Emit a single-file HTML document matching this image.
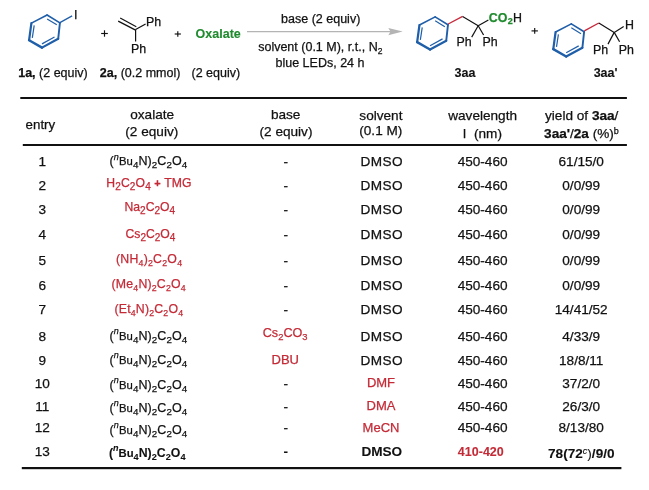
<!DOCTYPE html>
<html><head><meta charset="utf-8"><style>
html,body{margin:0;padding:0;background:#fff;width:649px;height:490px;overflow:hidden}
svg{display:block;will-change:transform}
text{font-family:"Liberation Sans",sans-serif;white-space:pre}
</style></head><body>
<svg width="649" height="490" viewBox="0 0 649 490">
<line x1="47.10" y1="15.00" x2="59.90" y2="22.90" stroke="#1f5ea8" stroke-width="1.6" stroke-linecap="round"/><line x1="59.90" y1="22.90" x2="58.20" y2="38.80" stroke="#1f5ea8" stroke-width="1.9" stroke-linecap="round"/><line x1="58.20" y1="38.80" x2="42.00" y2="47.60" stroke="#1f5ea8" stroke-width="2.2" stroke-linecap="round"/><line x1="42.00" y1="47.60" x2="29.10" y2="40.20" stroke="#1f5ea8" stroke-width="2.4" stroke-linecap="round"/><line x1="29.10" y1="40.20" x2="31.40" y2="23.10" stroke="#1f5ea8" stroke-width="2.2" stroke-linecap="round"/><line x1="31.40" y1="23.10" x2="47.10" y2="15.00" stroke="#1f5ea8" stroke-width="1.6" stroke-linecap="round"/><line x1="47.10" y1="18.90" x2="56.80" y2="24.80" stroke="#1f5ea8" stroke-width="1.2"/><line x1="54.50" y1="37.00" x2="42.00" y2="43.90" stroke="#1f5ea8" stroke-width="1.2"/><line x1="32.30" y1="37.90" x2="34.20" y2="25.40" stroke="#1f5ea8" stroke-width="1.2"/>
<line x1="59.9" y1="22.6" x2="72.1" y2="15.9" stroke="#1f5ea8" stroke-width="1.3"/>
<text x="73.9" y="19.2" font-size="12.5" text-anchor="start" font-weight="normal" fill="#111" stroke="#111" stroke-width="0.25" >I</text>
<line x1="101.15" y1="33.5" x2="107.85" y2="33.5" stroke="#111" stroke-width="1.15"/><line x1="104.5" y1="30.3" x2="104.5" y2="36.7" stroke="#111" stroke-width="1.15"/>
<line x1="120.2" y1="18.0" x2="136.3" y2="26.8" stroke="#111" stroke-width="1.2"/>
<line x1="118.2" y1="21.1" x2="135.6" y2="30.1" stroke="#111" stroke-width="1.2"/>
<line x1="135.6" y1="29.6" x2="145.6" y2="23.9" stroke="#111" stroke-width="1.2"/>
<line x1="135.6" y1="29.6" x2="135.6" y2="41.5" stroke="#111" stroke-width="1.2"/>
<text x="146.1" y="25.7" font-size="12.4" text-anchor="start" font-weight="normal" fill="#111" stroke="#111" stroke-width="0.25" >Ph</text>
<text x="131.0" y="52.6" font-size="12.4" text-anchor="start" font-weight="normal" fill="#111" stroke="#111" stroke-width="0.25" >Ph</text>
<line x1="174.70000000000002" y1="34.0" x2="180.9" y2="34.0" stroke="#111" stroke-width="1.15"/><line x1="177.8" y1="31.2" x2="177.8" y2="36.8" stroke="#111" stroke-width="1.15"/>
<text x="218.2" y="38.0" font-size="12.5" text-anchor="middle" font-weight="bold" fill="#1f8a2e" stroke="#1f8a2e" stroke-width="0.1" >Oxalate</text>
<line x1="247" y1="31.6" x2="392" y2="31.6" stroke="#b4b4b4" stroke-width="1.1"/>
<path d="M388.3,28.1 L402.7,31.6 L388.3,35.2 L390.5,31.6 Z" fill="#b4b4b4"/>
<text x="320.7" y="23.0" font-size="12.5" text-anchor="middle" font-weight="normal" fill="#111" stroke="#111" stroke-width="0.25" >base (2 equiv)</text>
<text x="320.3" y="51.1" font-size="12.5" text-anchor="middle" font-weight="normal" fill="#111" stroke="#111" stroke-width="0.25" >solvent (0.1 M), r.t., N<tspan dy="2.5" font-size="8.5">2</tspan></text>
<text x="320.0" y="67.0" font-size="12.5" text-anchor="middle" font-weight="normal" fill="#111" stroke="#111" stroke-width="0.25" >blue LEDs, 24 h</text>
<text x="18.2" y="77.4" font-size="12.5" text-anchor="start" font-weight="normal" fill="#111" stroke="#111" stroke-width="0.25" ><tspan font-weight="bold">1a,</tspan> (2 equiv)</text>
<text x="99.8" y="77.4" font-size="12.5" text-anchor="start" font-weight="normal" fill="#111" stroke="#111" stroke-width="0.25" ><tspan font-weight="bold">2a,</tspan> (0.2 mmol)</text>
<text x="215.8" y="77.4" font-size="12.5" text-anchor="middle" font-weight="normal" fill="#111" stroke="#111" stroke-width="0.25" >(2 equiv)</text>
<line x1="435.15" y1="16.90" x2="447.95" y2="24.80" stroke="#1f5ea8" stroke-width="1.6" stroke-linecap="round"/><line x1="447.95" y1="24.80" x2="446.25" y2="40.70" stroke="#1f5ea8" stroke-width="1.9" stroke-linecap="round"/><line x1="446.25" y1="40.70" x2="430.05" y2="49.50" stroke="#1f5ea8" stroke-width="2.2" stroke-linecap="round"/><line x1="430.05" y1="49.50" x2="417.15" y2="42.10" stroke="#1f5ea8" stroke-width="2.4" stroke-linecap="round"/><line x1="417.15" y1="42.10" x2="419.45" y2="25.00" stroke="#1f5ea8" stroke-width="2.2" stroke-linecap="round"/><line x1="419.45" y1="25.00" x2="435.15" y2="16.90" stroke="#1f5ea8" stroke-width="1.6" stroke-linecap="round"/><line x1="435.15" y1="20.80" x2="444.85" y2="26.70" stroke="#1f5ea8" stroke-width="1.2"/><line x1="442.55" y1="38.90" x2="430.05" y2="45.80" stroke="#1f5ea8" stroke-width="1.2"/><line x1="420.35" y1="39.80" x2="422.25" y2="27.30" stroke="#1f5ea8" stroke-width="1.2"/>
<line x1="448.2" y1="24.0" x2="462.6" y2="16.4" stroke="#c8283a" stroke-width="1.35"/>
<line x1="462.6" y1="16.4" x2="478.2" y2="25.8" stroke="#111" stroke-width="1.2"/>
<line x1="478.2" y1="25.8" x2="488.4" y2="19.9" stroke="#111" stroke-width="1.2"/>
<line x1="478.2" y1="25.8" x2="471.7" y2="37.1" stroke="#111" stroke-width="1.2"/>
<line x1="478.2" y1="25.8" x2="483.6" y2="35.0" stroke="#111" stroke-width="1.2"/>
<text x="488.7" y="22.0" font-size="12.4" text-anchor="start" font-weight="normal" fill="#111" stroke="#111" stroke-width="0.25" ><tspan fill="#1f8a2e" stroke="#1f8a2e" font-weight="bold">CO</tspan><tspan x="507.8" dy="2.3" font-size="9" fill="#1f8a2e" stroke="#1f8a2e" font-weight="bold">2</tspan><tspan x="513.1" dy="-2.3">H</tspan></text>
<text x="456.5" y="46.3" font-size="12.4" text-anchor="start" font-weight="normal" fill="#111" stroke="#111" stroke-width="0.25" >Ph</text>
<text x="482.4" y="46.3" font-size="12.4" text-anchor="start" font-weight="normal" fill="#111" stroke="#111" stroke-width="0.25" >Ph</text>
<text x="465.0" y="76.9" font-size="12.5" text-anchor="middle" font-weight="bold" fill="#111" stroke="#111" stroke-width="0.1" >3aa</text>
<line x1="531.5" y1="30.9" x2="537.9000000000001" y2="30.9" stroke="#111" stroke-width="1.15"/><line x1="534.7" y1="28.049999999999997" x2="534.7" y2="33.75" stroke="#111" stroke-width="1.15"/>
<line x1="571.30" y1="23.90" x2="584.10" y2="31.80" stroke="#1f5ea8" stroke-width="1.6" stroke-linecap="round"/><line x1="584.10" y1="31.80" x2="582.40" y2="47.70" stroke="#1f5ea8" stroke-width="1.9" stroke-linecap="round"/><line x1="582.40" y1="47.70" x2="566.20" y2="56.50" stroke="#1f5ea8" stroke-width="2.2" stroke-linecap="round"/><line x1="566.20" y1="56.50" x2="553.30" y2="49.10" stroke="#1f5ea8" stroke-width="2.4" stroke-linecap="round"/><line x1="553.30" y1="49.10" x2="555.60" y2="32.00" stroke="#1f5ea8" stroke-width="2.2" stroke-linecap="round"/><line x1="555.60" y1="32.00" x2="571.30" y2="23.90" stroke="#1f5ea8" stroke-width="1.6" stroke-linecap="round"/><line x1="571.30" y1="27.80" x2="581.00" y2="33.70" stroke="#1f5ea8" stroke-width="1.2"/><line x1="578.70" y1="45.90" x2="566.20" y2="52.80" stroke="#1f5ea8" stroke-width="1.2"/><line x1="556.50" y1="46.80" x2="558.40" y2="34.30" stroke="#1f5ea8" stroke-width="1.2"/>
<line x1="584.4" y1="30.9" x2="598.8" y2="23.0" stroke="#c8283a" stroke-width="1.35"/>
<line x1="598.8" y1="23.0" x2="614.2" y2="32.4" stroke="#111" stroke-width="1.2"/>
<line x1="614.2" y1="32.4" x2="623.7" y2="26.6" stroke="#111" stroke-width="1.2"/>
<line x1="614.2" y1="32.4" x2="608.0" y2="44.1" stroke="#111" stroke-width="1.2"/>
<line x1="614.2" y1="32.4" x2="619.6" y2="41.8" stroke="#111" stroke-width="1.2"/>
<text x="625.0" y="28.8" font-size="12.4" text-anchor="start" font-weight="normal" fill="#111" stroke="#111" stroke-width="0.25" >H</text>
<text x="593.1" y="53.5" font-size="12.4" text-anchor="start" font-weight="normal" fill="#111" stroke="#111" stroke-width="0.25" >Ph</text>
<text x="618.7" y="53.5" font-size="12.4" text-anchor="start" font-weight="normal" fill="#111" stroke="#111" stroke-width="0.25" >Ph</text>
<text x="605.6" y="76.9" font-size="12.5" text-anchor="middle" font-weight="bold" fill="#111" stroke="#111" stroke-width="0.1" >3aa'</text>
<rect x="20.3" y="97" width="606.6" height="2" fill="#111"/>
<rect x="22.8" y="144" width="604.1" height="2" fill="#111"/>
<rect x="21.8" y="467" width="599.6" height="2.2" fill="#111"/>
<text x="25.6" y="128.8" font-size="13.3" text-anchor="start" font-weight="normal" fill="#111" stroke="#111" stroke-width="0.25" >entry</text>
<text x="152.2" y="119.1" font-size="13.6" text-anchor="middle" font-weight="normal" fill="#111" stroke="#111" stroke-width="0.25" >oxalate</text>
<text x="151.8" y="135.8" font-size="13.6" text-anchor="middle" font-weight="normal" fill="#111" stroke="#111" stroke-width="0.25" >(2 equiv)</text>
<text x="285.7" y="119.3" font-size="13.6" text-anchor="middle" font-weight="normal" fill="#111" stroke="#111" stroke-width="0.25" >base</text>
<text x="286.0" y="135.8" font-size="13.6" text-anchor="middle" font-weight="normal" fill="#111" stroke="#111" stroke-width="0.25" >(2 equiv)</text>
<text x="380.9" y="119.8" font-size="13.6" text-anchor="middle" font-weight="normal" fill="#111" stroke="#111" stroke-width="0.25" >solvent</text>
<text x="380.8" y="135.3" font-size="13.6" text-anchor="middle" font-weight="normal" fill="#111" stroke="#111" stroke-width="0.25" >(0.1 M)</text>
<text x="482.6" y="120.3" font-size="13.6" text-anchor="middle" font-weight="normal" fill="#111" stroke="#111" stroke-width="0.25" >wavelength</text>
<text x="463.0" y="137.6" font-size="13.6" text-anchor="start" font-weight="normal" fill="#111" stroke="#111" stroke-width="0.25" >l</text>
<text x="488.0" y="137.6" font-size="13.6" text-anchor="middle" font-weight="normal" fill="#111" stroke="#111" stroke-width="0.25" >(nm)</text>
<text x="581.7" y="119.5" font-size="13.6" text-anchor="middle" font-weight="normal" fill="#111" stroke="#111" stroke-width="0.25" >yield of <tspan font-weight="bold">3aa</tspan>/</text>
<text x="581.5" y="138.0" font-size="13.6" text-anchor="middle" font-weight="normal" fill="#111" stroke="#111" stroke-width="0.25" ><tspan font-weight="bold">3aa'</tspan>/<tspan font-weight="bold">2a</tspan> (%)<tspan dy="-4.2" font-size="9">b</tspan></text>
<text x="42.2" y="166.0" font-size="13.6" text-anchor="middle" font-weight="normal" fill="#111" stroke="#111" stroke-width="0.25" >1</text>
<text x="109.6" y="165.4" font-size="13.0" text-anchor="start" font-weight="normal" fill="#111" stroke="#111" stroke-width="0.25"  letter-spacing="0.08"><tspan font-size="12.5">(</tspan><tspan dy="-5.6" font-size="9" font-style="italic" font-weight="normal">n</tspan><tspan dy="5.6" font-size="11.3">B</tspan><tspan font-size="11.3">u</tspan><tspan dy="3.0" font-size="9.8">4</tspan><tspan dy="-3.0" font-size="12.5">N</tspan><tspan font-size="12.5">)</tspan><tspan dy="3.0" font-size="9.8">2</tspan><tspan dy="-3.0" font-size="12.5">C</tspan><tspan dy="3.0" font-size="9.8">2</tspan><tspan dy="-3.0" font-size="12.5">O</tspan><tspan dy="3.0" font-size="9.8">4</tspan></text>
<text x="285.7" y="166.0" font-size="13.6" text-anchor="middle" font-weight="normal" fill="#111" stroke="#111" stroke-width="0.25" >-</text>
<text x="381.8" y="166.0" font-size="13.6" text-anchor="middle" font-weight="normal" fill="#111" stroke="#111" stroke-width="0.25"  letter-spacing="0.4">DMSO</text>
<text x="482.6" y="166.0" font-size="13.6" text-anchor="middle" font-weight="normal" fill="#111" stroke="#111" stroke-width="0.25" >450-460</text>
<text x="581.2" y="166.0" font-size="13.6" text-anchor="middle" font-weight="normal" fill="#111" stroke="#111" stroke-width="0.25" >61/15/0</text>
<text x="42.2" y="190.0" font-size="13.6" text-anchor="middle" font-weight="normal" fill="#111" stroke="#111" stroke-width="0.25" >2</text>
<text x="106.3" y="187.0" font-size="13.0" text-anchor="start" font-weight="normal" fill="#c42a36" stroke="#c42a36" stroke-width="0.25"  letter-spacing="0.12"><tspan font-size="12.2">H</tspan><tspan dy="3.0" font-size="10.0">2</tspan><tspan dy="-3.0" font-size="12.2">C</tspan><tspan dy="3.0" font-size="10.0">2</tspan><tspan dy="-3.0" font-size="12.2">O</tspan><tspan dy="3.0" font-size="10.0">4</tspan><tspan dy="-3.0" font-size="12.2"> </tspan><tspan font-size="11" font-weight="bold">+</tspan><tspan font-size="12.2"> </tspan><tspan font-size="12.2">TMG</tspan></text>
<text x="285.7" y="190.0" font-size="13.6" text-anchor="middle" font-weight="normal" fill="#111" stroke="#111" stroke-width="0.25" >-</text>
<text x="381.8" y="190.0" font-size="13.6" text-anchor="middle" font-weight="normal" fill="#111" stroke="#111" stroke-width="0.25"  letter-spacing="0.4">DMSO</text>
<text x="482.6" y="190.0" font-size="13.6" text-anchor="middle" font-weight="normal" fill="#111" stroke="#111" stroke-width="0.25" >450-460</text>
<text x="581.2" y="190.0" font-size="13.6" text-anchor="middle" font-weight="normal" fill="#111" stroke="#111" stroke-width="0.25" >0/0/99</text>
<text x="42.2" y="214.4" font-size="13.6" text-anchor="middle" font-weight="normal" fill="#111" stroke="#111" stroke-width="0.25" >3</text>
<text x="124.5" y="211.0" font-size="13.0" text-anchor="start" font-weight="normal" fill="#c42a36" stroke="#c42a36" stroke-width="0.25" ><tspan font-size="12.2">Na</tspan><tspan dy="3.0" font-size="10.0">2</tspan><tspan dy="-3.0" font-size="12.2">C</tspan><tspan dy="3.0" font-size="10.0">2</tspan><tspan dy="-3.0" font-size="12.2">O</tspan><tspan dy="3.0" font-size="10.0">4</tspan></text>
<text x="285.7" y="214.4" font-size="13.6" text-anchor="middle" font-weight="normal" fill="#111" stroke="#111" stroke-width="0.25" >-</text>
<text x="381.8" y="214.4" font-size="13.6" text-anchor="middle" font-weight="normal" fill="#111" stroke="#111" stroke-width="0.25"  letter-spacing="0.4">DMSO</text>
<text x="482.6" y="214.4" font-size="13.6" text-anchor="middle" font-weight="normal" fill="#111" stroke="#111" stroke-width="0.25" >450-460</text>
<text x="581.2" y="214.4" font-size="13.6" text-anchor="middle" font-weight="normal" fill="#111" stroke="#111" stroke-width="0.25" >0/0/99</text>
<text x="42.2" y="238.9" font-size="13.6" text-anchor="middle" font-weight="normal" fill="#111" stroke="#111" stroke-width="0.25" >4</text>
<text x="125.5" y="237.6" font-size="13.0" text-anchor="start" font-weight="normal" fill="#c42a36" stroke="#c42a36" stroke-width="0.25" ><tspan font-size="12.2">Cs</tspan><tspan dy="3.0" font-size="10.0">2</tspan><tspan dy="-3.0" font-size="12.2">C</tspan><tspan dy="3.0" font-size="10.0">2</tspan><tspan dy="-3.0" font-size="12.2">O</tspan><tspan dy="3.0" font-size="10.0">4</tspan></text>
<text x="285.7" y="238.9" font-size="13.6" text-anchor="middle" font-weight="normal" fill="#111" stroke="#111" stroke-width="0.25" >-</text>
<text x="381.8" y="238.9" font-size="13.6" text-anchor="middle" font-weight="normal" fill="#111" stroke="#111" stroke-width="0.25"  letter-spacing="0.4">DMSO</text>
<text x="482.6" y="238.9" font-size="13.6" text-anchor="middle" font-weight="normal" fill="#111" stroke="#111" stroke-width="0.25" >450-460</text>
<text x="581.2" y="238.9" font-size="13.6" text-anchor="middle" font-weight="normal" fill="#111" stroke="#111" stroke-width="0.25" >0/0/99</text>
<text x="42.2" y="264.6" font-size="13.6" text-anchor="middle" font-weight="normal" fill="#111" stroke="#111" stroke-width="0.25" >5</text>
<text x="116.0" y="262.5" font-size="13.0" text-anchor="start" font-weight="normal" fill="#c42a36" stroke="#c42a36" stroke-width="0.25"  letter-spacing="0.22"><tspan font-size="12.3">(NH</tspan><tspan dy="3.3" font-size="8.8">4</tspan><tspan dy="-3.3" font-size="12.3">)</tspan><tspan dy="3.3" font-size="8.8">2</tspan><tspan dy="-3.3" font-size="12.3">C</tspan><tspan dy="3.3" font-size="8.8">2</tspan><tspan dy="-3.3" font-size="12.3">O</tspan><tspan dy="3.3" font-size="8.8">4</tspan></text>
<text x="285.7" y="264.6" font-size="13.6" text-anchor="middle" font-weight="normal" fill="#111" stroke="#111" stroke-width="0.25" >-</text>
<text x="381.8" y="264.6" font-size="13.6" text-anchor="middle" font-weight="normal" fill="#111" stroke="#111" stroke-width="0.25"  letter-spacing="0.4">DMSO</text>
<text x="482.6" y="264.6" font-size="13.6" text-anchor="middle" font-weight="normal" fill="#111" stroke="#111" stroke-width="0.25" >450-460</text>
<text x="581.2" y="264.6" font-size="13.6" text-anchor="middle" font-weight="normal" fill="#111" stroke="#111" stroke-width="0.25" >0/0/99</text>
<text x="42.2" y="289.7" font-size="13.6" text-anchor="middle" font-weight="normal" fill="#111" stroke="#111" stroke-width="0.25" >6</text>
<text x="111.5" y="287.5" font-size="13.0" text-anchor="start" font-weight="normal" fill="#c42a36" stroke="#c42a36" stroke-width="0.25"  letter-spacing="0.2"><tspan font-size="12.3">(Me</tspan><tspan dy="3.3" font-size="8.8">4</tspan><tspan dy="-3.3" font-size="12.3">N)</tspan><tspan dy="3.3" font-size="8.8">2</tspan><tspan dy="-3.3" font-size="12.3">C</tspan><tspan dy="3.3" font-size="8.8">2</tspan><tspan dy="-3.3" font-size="12.3">O</tspan><tspan dy="3.3" font-size="8.8">4</tspan></text>
<text x="285.7" y="289.7" font-size="13.6" text-anchor="middle" font-weight="normal" fill="#111" stroke="#111" stroke-width="0.25" >-</text>
<text x="381.8" y="289.7" font-size="13.6" text-anchor="middle" font-weight="normal" fill="#111" stroke="#111" stroke-width="0.25"  letter-spacing="0.4">DMSO</text>
<text x="482.6" y="289.7" font-size="13.6" text-anchor="middle" font-weight="normal" fill="#111" stroke="#111" stroke-width="0.25" >450-460</text>
<text x="581.2" y="289.7" font-size="13.6" text-anchor="middle" font-weight="normal" fill="#111" stroke="#111" stroke-width="0.25" >0/0/99</text>
<text x="42.2" y="313.6" font-size="13.6" text-anchor="middle" font-weight="normal" fill="#111" stroke="#111" stroke-width="0.25" >7</text>
<text x="114.5" y="312.5" font-size="13.0" text-anchor="start" font-weight="normal" fill="#c42a36" stroke="#c42a36" stroke-width="0.25"  letter-spacing="0.18"><tspan font-size="12.3">(Et</tspan><tspan dy="3.3" font-size="8.8">4</tspan><tspan dy="-3.3" font-size="12.3">N)</tspan><tspan dy="3.3" font-size="8.8">2</tspan><tspan dy="-3.3" font-size="12.3">C</tspan><tspan dy="3.3" font-size="8.8">2</tspan><tspan dy="-3.3" font-size="12.3">O</tspan><tspan dy="3.3" font-size="8.8">4</tspan></text>
<text x="285.7" y="313.6" font-size="13.6" text-anchor="middle" font-weight="normal" fill="#111" stroke="#111" stroke-width="0.25" >-</text>
<text x="381.8" y="313.6" font-size="13.6" text-anchor="middle" font-weight="normal" fill="#111" stroke="#111" stroke-width="0.25"  letter-spacing="0.4">DMSO</text>
<text x="482.6" y="313.6" font-size="13.6" text-anchor="middle" font-weight="normal" fill="#111" stroke="#111" stroke-width="0.25" >450-460</text>
<text x="581.2" y="313.6" font-size="13.6" text-anchor="middle" font-weight="normal" fill="#111" stroke="#111" stroke-width="0.25" >14/41/52</text>
<text x="42.2" y="340.5" font-size="13.6" text-anchor="middle" font-weight="normal" fill="#111" stroke="#111" stroke-width="0.25" >8</text>
<text x="109.6" y="339.8" font-size="13.0" text-anchor="start" font-weight="normal" fill="#111" stroke="#111" stroke-width="0.25"  letter-spacing="0.08"><tspan font-size="12.5">(</tspan><tspan dy="-5.6" font-size="9" font-style="italic" font-weight="normal">n</tspan><tspan dy="5.6" font-size="11.3">B</tspan><tspan font-size="11.3">u</tspan><tspan dy="3.0" font-size="9.8">4</tspan><tspan dy="-3.0" font-size="12.5">N</tspan><tspan font-size="12.5">)</tspan><tspan dy="3.0" font-size="9.8">2</tspan><tspan dy="-3.0" font-size="12.5">C</tspan><tspan dy="3.0" font-size="9.8">2</tspan><tspan dy="-3.0" font-size="12.5">O</tspan><tspan dy="3.0" font-size="9.8">4</tspan></text>
<text x="262.75" y="337.2" font-size="13.6" text-anchor="start" font-weight="normal" fill="#c42a36" stroke="#c42a36" stroke-width="0.25" ><tspan font-size="12.6">Cs</tspan><tspan dy="3.2" font-size="9.4">2</tspan><tspan dy="-3.2" font-size="12.6">CO</tspan><tspan dy="3.2" font-size="9.4">3</tspan></text>
<text x="381.8" y="340.5" font-size="13.6" text-anchor="middle" font-weight="normal" fill="#111" stroke="#111" stroke-width="0.25"  letter-spacing="0.4">DMSO</text>
<text x="482.6" y="340.5" font-size="13.6" text-anchor="middle" font-weight="normal" fill="#111" stroke="#111" stroke-width="0.25" >450-460</text>
<text x="581.2" y="340.5" font-size="13.6" text-anchor="middle" font-weight="normal" fill="#111" stroke="#111" stroke-width="0.25" >4/33/9</text>
<text x="42.2" y="364.6" font-size="13.6" text-anchor="middle" font-weight="normal" fill="#111" stroke="#111" stroke-width="0.25" >9</text>
<text x="109.6" y="363.8" font-size="13.0" text-anchor="start" font-weight="normal" fill="#111" stroke="#111" stroke-width="0.25"  letter-spacing="0.08"><tspan font-size="12.5">(</tspan><tspan dy="-5.6" font-size="9" font-style="italic" font-weight="normal">n</tspan><tspan dy="5.6" font-size="11.3">B</tspan><tspan font-size="11.3">u</tspan><tspan dy="3.0" font-size="9.8">4</tspan><tspan dy="-3.0" font-size="12.5">N</tspan><tspan font-size="12.5">)</tspan><tspan dy="3.0" font-size="9.8">2</tspan><tspan dy="-3.0" font-size="12.5">C</tspan><tspan dy="3.0" font-size="9.8">2</tspan><tspan dy="-3.0" font-size="12.5">O</tspan><tspan dy="3.0" font-size="9.8">4</tspan></text>
<text x="285.3" y="364.3" font-size="13.0" text-anchor="middle" font-weight="normal" fill="#c42a36" stroke="#c42a36" stroke-width="0.25" >DBU</text>
<text x="381.8" y="364.6" font-size="13.6" text-anchor="middle" font-weight="normal" fill="#111" stroke="#111" stroke-width="0.25"  letter-spacing="0.4">DMSO</text>
<text x="482.6" y="364.6" font-size="13.6" text-anchor="middle" font-weight="normal" fill="#111" stroke="#111" stroke-width="0.25" >450-460</text>
<text x="581.2" y="364.6" font-size="13.6" text-anchor="middle" font-weight="normal" fill="#111" stroke="#111" stroke-width="0.25" >18/8/11</text>
<text x="42.2" y="388.0" font-size="13.6" text-anchor="middle" font-weight="normal" fill="#111" stroke="#111" stroke-width="0.25" >10</text>
<text x="109.6" y="388.8" font-size="13.0" text-anchor="start" font-weight="normal" fill="#111" stroke="#111" stroke-width="0.25"  letter-spacing="0.08"><tspan font-size="12.5">(</tspan><tspan dy="-5.6" font-size="9" font-style="italic" font-weight="normal">n</tspan><tspan dy="5.6" font-size="11.3">B</tspan><tspan font-size="11.3">u</tspan><tspan dy="3.0" font-size="9.8">4</tspan><tspan dy="-3.0" font-size="12.5">N</tspan><tspan font-size="12.5">)</tspan><tspan dy="3.0" font-size="9.8">2</tspan><tspan dy="-3.0" font-size="12.5">C</tspan><tspan dy="3.0" font-size="9.8">2</tspan><tspan dy="-3.0" font-size="12.5">O</tspan><tspan dy="3.0" font-size="9.8">4</tspan></text>
<text x="285.7" y="388.0" font-size="13.6" text-anchor="middle" font-weight="normal" fill="#111" stroke="#111" stroke-width="0.25" >-</text>
<text x="381.0" y="386.9" font-size="13.0" text-anchor="middle" font-weight="normal" fill="#c42a36" stroke="#c42a36" stroke-width="0.25" >DMF</text>
<text x="482.6" y="388.0" font-size="13.6" text-anchor="middle" font-weight="normal" fill="#111" stroke="#111" stroke-width="0.25" >450-460</text>
<text x="581.2" y="388.0" font-size="13.6" text-anchor="middle" font-weight="normal" fill="#111" stroke="#111" stroke-width="0.25" >37/2/0</text>
<text x="42.2" y="410.7" font-size="13.6" text-anchor="middle" font-weight="normal" fill="#111" stroke="#111" stroke-width="0.25" >11</text>
<text x="109.6" y="411.7" font-size="13.0" text-anchor="start" font-weight="normal" fill="#111" stroke="#111" stroke-width="0.25"  letter-spacing="0.08"><tspan font-size="12.5">(</tspan><tspan dy="-5.6" font-size="9" font-style="italic" font-weight="normal">n</tspan><tspan dy="5.6" font-size="11.3">B</tspan><tspan font-size="11.3">u</tspan><tspan dy="3.0" font-size="9.8">4</tspan><tspan dy="-3.0" font-size="12.5">N</tspan><tspan font-size="12.5">)</tspan><tspan dy="3.0" font-size="9.8">2</tspan><tspan dy="-3.0" font-size="12.5">C</tspan><tspan dy="3.0" font-size="9.8">2</tspan><tspan dy="-3.0" font-size="12.5">O</tspan><tspan dy="3.0" font-size="9.8">4</tspan></text>
<text x="285.7" y="410.7" font-size="13.6" text-anchor="middle" font-weight="normal" fill="#111" stroke="#111" stroke-width="0.25" >-</text>
<text x="381.0" y="410.1" font-size="13.0" text-anchor="middle" font-weight="normal" fill="#c42a36" stroke="#c42a36" stroke-width="0.25" >DMA</text>
<text x="482.6" y="410.7" font-size="13.6" text-anchor="middle" font-weight="normal" fill="#111" stroke="#111" stroke-width="0.25" >450-460</text>
<text x="581.2" y="410.7" font-size="13.6" text-anchor="middle" font-weight="normal" fill="#111" stroke="#111" stroke-width="0.25" >26/3/0</text>
<text x="42.2" y="432.4" font-size="13.6" text-anchor="middle" font-weight="normal" fill="#111" stroke="#111" stroke-width="0.25" >12</text>
<text x="109.6" y="433.7" font-size="13.0" text-anchor="start" font-weight="normal" fill="#111" stroke="#111" stroke-width="0.25"  letter-spacing="0.08"><tspan font-size="12.5">(</tspan><tspan dy="-5.6" font-size="9" font-style="italic" font-weight="normal">n</tspan><tspan dy="5.6" font-size="11.3">B</tspan><tspan font-size="11.3">u</tspan><tspan dy="3.0" font-size="9.8">4</tspan><tspan dy="-3.0" font-size="12.5">N</tspan><tspan font-size="12.5">)</tspan><tspan dy="3.0" font-size="9.8">2</tspan><tspan dy="-3.0" font-size="12.5">C</tspan><tspan dy="3.0" font-size="9.8">2</tspan><tspan dy="-3.0" font-size="12.5">O</tspan><tspan dy="3.0" font-size="9.8">4</tspan></text>
<text x="285.7" y="432.4" font-size="13.6" text-anchor="middle" font-weight="normal" fill="#111" stroke="#111" stroke-width="0.25" >-</text>
<text x="381.0" y="431.8" font-size="13.0" text-anchor="middle" font-weight="normal" fill="#c42a36" stroke="#c42a36" stroke-width="0.25" >MeCN</text>
<text x="482.6" y="432.4" font-size="13.6" text-anchor="middle" font-weight="normal" fill="#111" stroke="#111" stroke-width="0.25" >450-460</text>
<text x="581.2" y="432.4" font-size="13.6" text-anchor="middle" font-weight="normal" fill="#111" stroke="#111" stroke-width="0.25" >8/13/80</text>
<text x="42.2" y="456.2" font-size="13.6" text-anchor="middle" font-weight="normal" fill="#111" stroke="#111" stroke-width="0.25" >13</text>
<text x="108.9" y="457.0" font-size="13.0" text-anchor="start" font-weight="bold" fill="#111" stroke="#111" stroke-width="0.1" ><tspan font-size="12.3">(</tspan><tspan dy="-5.6" font-size="9" font-style="italic">n</tspan><tspan dy="5.6" font-size="11.3">B</tspan><tspan font-size="11.3">u</tspan><tspan dy="3.0" font-size="9.2">4</tspan><tspan dy="-3.0" font-size="12.3">N</tspan><tspan font-size="12.3">)</tspan><tspan dy="3.0" font-size="9.2">2</tspan><tspan dy="-3.0" font-size="12.3">C</tspan><tspan dy="3.0" font-size="9.2">2</tspan><tspan dy="-3.0" font-size="12.3">O</tspan><tspan dy="3.0" font-size="9.2">4</tspan></text>
<text x="285.7" y="456.2" font-size="13.6" text-anchor="middle" font-weight="bold" fill="#111" stroke="#111" stroke-width="0.1" >-</text>
<text x="381.8" y="456.2" font-size="13.6" text-anchor="middle" font-weight="bold" fill="#111" stroke="#111" stroke-width="0.1" >DMSO</text>
<text x="480.8" y="455.9" font-size="12.5" text-anchor="middle" font-weight="bold" fill="#c42a36" stroke="#c42a36" stroke-width="0.1" >410-420</text>
<text x="581.3" y="457.8" font-size="13.6" text-anchor="middle" font-weight="bold" fill="#111" stroke="#111" stroke-width="0.1" >78(72<tspan dy="-4.3" font-size="9" font-style="italic" font-weight="normal">c</tspan><tspan dy="4.3" font-weight="normal">)</tspan>/9/0</text>
</svg></body></html>
